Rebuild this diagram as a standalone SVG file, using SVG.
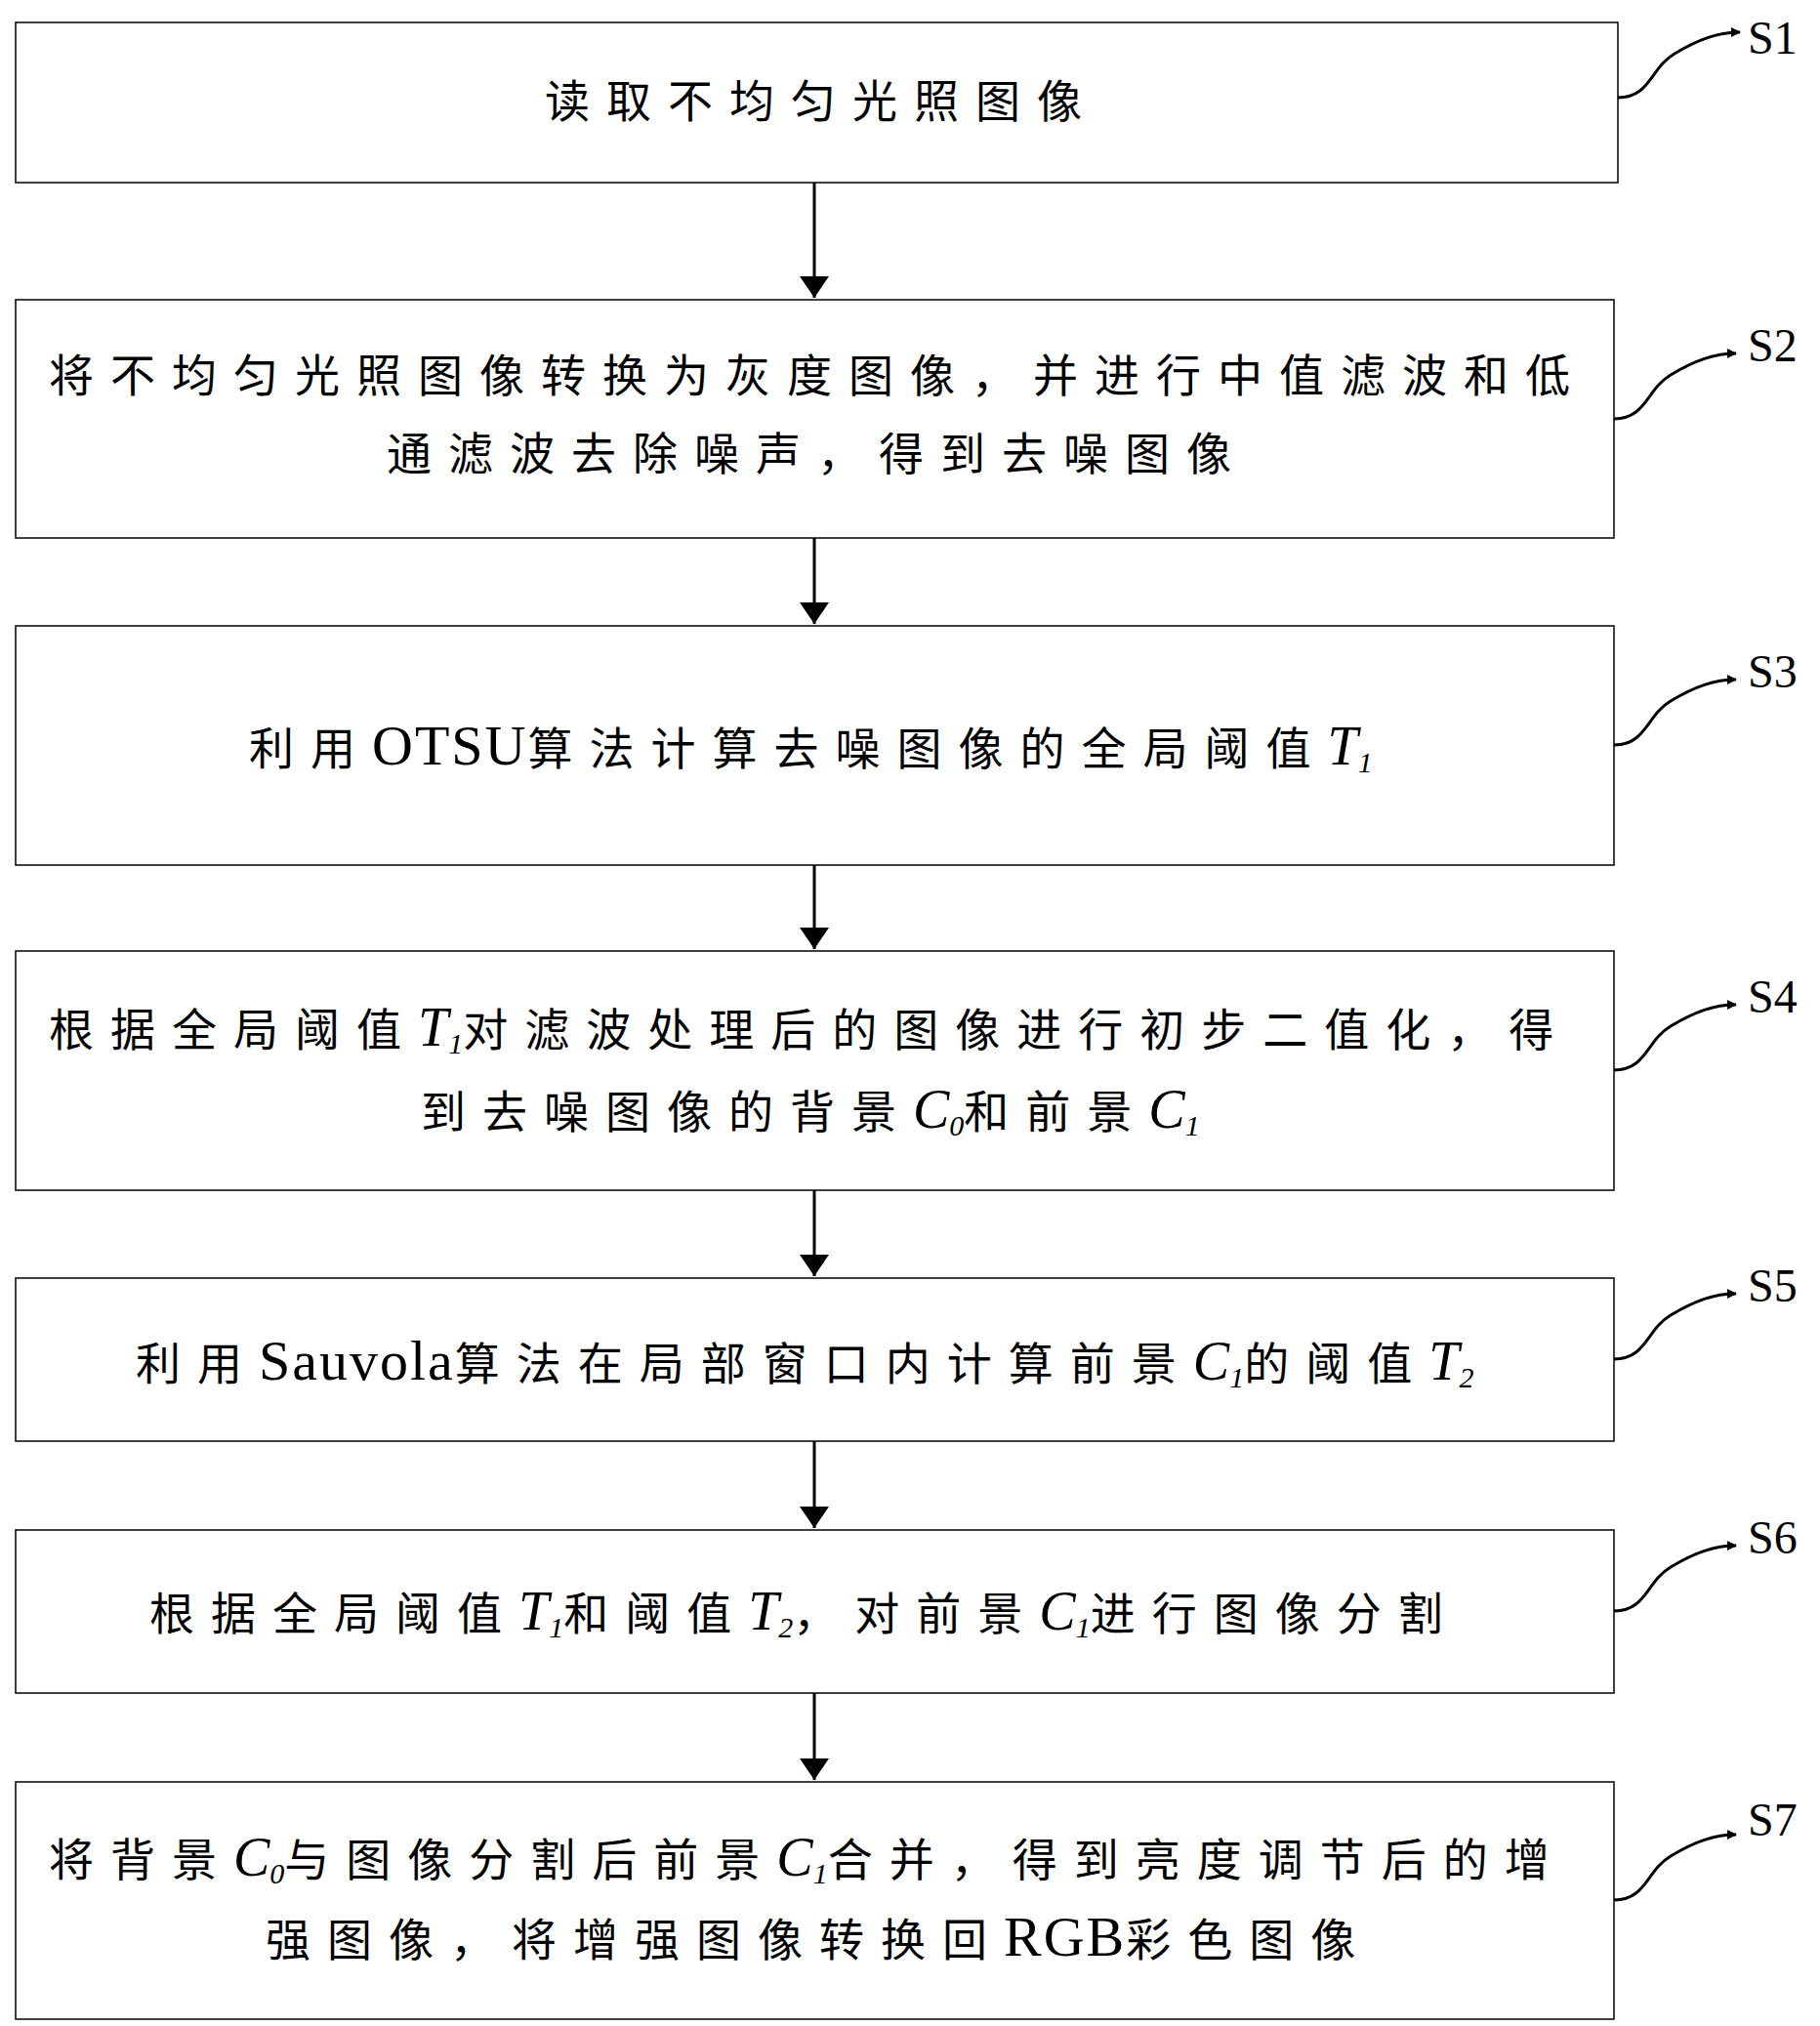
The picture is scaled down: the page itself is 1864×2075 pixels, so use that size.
<svg xmlns="http://www.w3.org/2000/svg" width="1864" height="2075" viewBox="0 0 1864 2075">
<style>
.box{fill:#fff;stroke:#000;stroke-width:1.5}
.t{font-family:"Liberation Serif","Noto Sans CJK SC",serif;font-size:46px;fill:#000;letter-spacing:17px}
.l{letter-spacing:2px;font-size:58px}
.i{font-style:italic;letter-spacing:0;font-size:56px}
.s{font-style:italic;letter-spacing:0;font-size:30px}
.lab{font-family:"Liberation Serif",serif;font-size:48px;fill:#000}
.ln{stroke:#000;stroke-width:3;fill:none}
</style>
<defs>
<marker id="ah" markerWidth="10" markerHeight="10" refX="9" refY="5" orient="auto" markerUnits="userSpaceOnUse" viewBox="0 0 10 10"><path d="M0,0 L10,5 L0,10 z"/></marker>
<marker id="ah2" markerWidth="22" markerHeight="30" refX="22" refY="15" orient="auto" markerUnits="userSpaceOnUse" viewBox="0 0 22 30"><path d="M0,0 L22,15 L0,30 z"/></marker>
</defs>
<g id="connectors">
<line class="ln" x1="834" y1="187" x2="834" y2="305" marker-end="url(#ah2)"/>
<line class="ln" x1="834" y1="551" x2="834" y2="639" marker-end="url(#ah2)"/>
<line class="ln" x1="834" y1="886" x2="834" y2="972" marker-end="url(#ah2)"/>
<line class="ln" x1="834" y1="1219" x2="834" y2="1307" marker-end="url(#ah2)"/>
<line class="ln" x1="834" y1="1476" x2="834" y2="1565" marker-end="url(#ah2)"/>
<line class="ln" x1="834" y1="1734" x2="834" y2="1823" marker-end="url(#ah2)"/>
</g>
<g id="S1"><rect class="box" x="16" y="23" width="1641" height="164"/>
<text class="t" x="558" y="120">读取不均匀光照图像</text></g>
<g id="S2"><rect class="box" x="16" y="307" width="1637" height="244"/>
<text class="t" x="50" y="401">将不均匀光照图像转换为灰度图像，并进行中值滤波和低</text>
<text class="t" x="396" y="481">通滤波去除噪声，得到去噪图像</text></g>
<g id="S3"><rect class="box" x="16" y="641" width="1637" height="245"/>
<text class="t" x="255" y="783">利用<tspan class="l">OTSU</tspan>算法计算去噪图像的全局阈值<tspan class="i">T</tspan><tspan class="s" dy="8">1</tspan></text></g>
<g id="S4"><rect class="box" x="16" y="974" width="1637" height="245"/>
<text class="t" x="50" y="1071">根据全局阈值<tspan class="i">T</tspan><tspan class="s" dy="8">1</tspan><tspan dy="-8">对滤波处理后的图像进行初步二值化，得</tspan></text>
<text class="t" x="431" y="1155">到去噪图像的背景<tspan class="i">C</tspan><tspan class="s" dy="8">0</tspan><tspan dy="-8">和前景</tspan><tspan class="i">C</tspan><tspan class="s" dy="8">1</tspan></text></g>
<g id="S5"><rect class="box" x="16" y="1309" width="1637" height="167"/>
<text class="t" x="139" y="1413">利用<tspan class="l">Sauvola</tspan>算法在局部窗口内计算前景<tspan class="i">C</tspan><tspan class="s" dy="8">1</tspan><tspan dy="-8">的阈值</tspan><tspan class="i">T</tspan><tspan class="s" dy="8">2</tspan></text></g>
<g id="S6"><rect class="box" x="16" y="1567" width="1637" height="167"/>
<text class="t" x="153" y="1669">根据全局阈值<tspan class="i">T</tspan><tspan class="s" dy="8">1</tspan><tspan dy="-8">和阈值</tspan><tspan class="i">T</tspan><tspan class="s" dy="8">2</tspan><tspan dy="-8">，对前景</tspan><tspan class="i">C</tspan><tspan class="s" dy="8">1</tspan><tspan dy="-8">进行图像分割</tspan></text></g>
<g id="S7"><rect class="box" x="16" y="1825" width="1637" height="243"/>
<text class="t" x="50" y="1921">将背景<tspan class="i">C</tspan><tspan class="s" dy="8">0</tspan><tspan dy="-8">与图像分割后前景</tspan><tspan class="i">C</tspan><tspan class="s" dy="8">1</tspan><tspan dy="-8">合并，得到亮度调节后的增</tspan></text>
<text class="t" x="272" y="2003">强图像，将增强图像转换回<tspan class="l">RGB</tspan>彩色图像</text></g>
<g id="labels">
<path class="ln" d="M1657,100 C1690,100 1690,70 1715,55 S1760,33 1782,33" marker-end="url(#ah)"/><text class="lab" x="1790" y="55">S1</text>
<path class="ln" d="M1653,429 C1686,429 1686,399 1711,384 S1756,362 1778,362" marker-end="url(#ah)"/><text class="lab" x="1790" y="370">S2</text>
<path class="ln" d="M1653,763 C1686,763 1686,733 1711,718 S1756,696 1778,696" marker-end="url(#ah)"/><text class="lab" x="1790" y="704">S3</text>
<path class="ln" d="M1653,1096 C1686,1096 1686,1066 1711,1051 S1756,1029 1778,1029" marker-end="url(#ah)"/><text class="lab" x="1790" y="1037">S4</text>
<path class="ln" d="M1653,1392 C1686,1392 1686,1362 1711,1347 S1756,1325 1778,1325" marker-end="url(#ah)"/><text class="lab" x="1790" y="1333">S5</text>
<path class="ln" d="M1653,1650 C1686,1650 1686,1620 1711,1605 S1756,1583 1778,1583" marker-end="url(#ah)"/><text class="lab" x="1790" y="1591">S6</text>
<path class="ln" d="M1653,1946 C1686,1946 1686,1916 1711,1901 S1756,1879 1778,1879" marker-end="url(#ah)"/><text class="lab" x="1790" y="1880">S7</text>
</g>
</svg>
